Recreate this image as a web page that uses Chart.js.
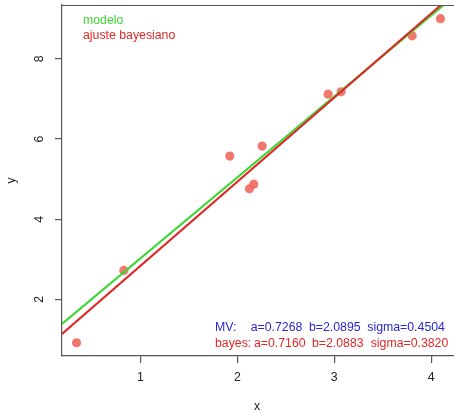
<!DOCTYPE html>
<html>
<head>
<meta charset="utf-8">
<script src="https://cdn.jsdelivr.net/npm/chart.js@4/dist/chart.umd.min.js"></script>
<style>
  html, body { margin: 0; padding: 0; background: #fff; overflow: hidden; }
  #wrap { width: 459px; height: 413px; position: relative; }
</style>
</head>
<body>
<div id="wrap"><canvas id="chart_bayes"></canvas></div>
<script>
// observed points
const obsX = [0.34, 0.828, 1.922, 2.256, 2.125, 2.169, 2.937, 3.071, 3.804, 4.096];
const obsY = [0.92, 2.723, 5.574, 5.823, 4.758, 4.873, 7.117, 7.175, 8.572, 9.00];

// fitted lines, endpoints read where they meet the plot frame
const modeloX = [0.19, 4.124];
const modeloY = [1.39, 9.33];
const bayesX = [0.19, 4.096];
const bayesY = [1.14, 9.33];

const xTicks = [1, 2, 3, 4];
const yTicks = [2, 4, 6, 8];

const legendLabels = ['modelo', 'ajuste bayesiano'];
const mvText = [['MV:', 215], ['a=0.7268', 250.7], ['b=2.0895', 309], ['sigma=0.4504', 367.3]];
const bayesText = [['bayes:', 215], ['a=0.7160', 254], ['b=2.0883', 312], ['sigma=0.3820', 370.7]];

const GREEN = 'rgb(60,215,50)';
const RED = 'rgb(222,40,40)';
const BLUE = 'rgb(40,40,210)';
const AXIS = '#555';
const FONT = '12.3px "Liberation Sans", Arial, sans-serif';

const toPts = (xs, ys) => xs.map((x, i) => ({ x: x, y: ys[i] }));

const framePlugin = {
    id: 'frame',
    afterDraw(chart) {
        const ctx = chart.ctx;
        const a = chart.chartArea;
        const xs = chart.scales.x, ys = chart.scales.y;
        ctx.save();
        // top edge of the box
        ctx.strokeStyle = AXIS;
        ctx.lineWidth = 1.2;
        ctx.beginPath();
        ctx.moveTo(a.left, a.top + 0.5);
        ctx.lineTo(a.right, a.top + 0.5);
        ctx.stroke();

        ctx.font = FONT;
        ctx.fillStyle = '#222';
        ctx.textAlign = 'center';
        ctx.textBaseline = 'middle';
        xTicks.forEach(v => ctx.fillText(String(v), xs.getPixelForValue(v), 378));
        ctx.fillText('x', 257, 407);

        // rotated y labels
        yTicks.forEach(v => {
            ctx.save();
            ctx.translate(40, ys.getPixelForValue(v));
            ctx.rotate(-Math.PI / 2);
            ctx.fillText(String(v), 0, 0);
            ctx.restore();
        });
        ctx.save();
        ctx.translate(12, (a.top + a.bottom) / 2);
        ctx.rotate(-Math.PI / 2);
        ctx.fillText('y', 0, 0);
        ctx.restore();

        // legend
        ctx.textAlign = 'left';
        ctx.fillStyle = GREEN;
        ctx.fillText(legendLabels[0], 83, 21);
        ctx.fillStyle = RED;
        ctx.fillText(legendLabels[1], 83, 35.5);

        // estimates
        ctx.fillStyle = BLUE;
        mvText.forEach(t => ctx.fillText(t[0], t[1], 327.5));
        ctx.fillStyle = RED;
        bayesText.forEach(t => ctx.fillText(t[0], t[1], 343.5));
        ctx.restore();
    }
};

new Chart(document.getElementById('chart_bayes'), {
    type: 'scatter',
    data: {
        datasets: [
            {
                label: 'ajuste bayesiano',
                type: 'line',
                data: toPts(bayesX, bayesY),
                borderColor: RED,
                borderWidth: 2,
                pointRadius: 0,
                order: 0
            },
            {
                label: 'modelo',
                type: 'line',
                data: toPts(modeloX, modeloY),
                borderColor: GREEN,
                borderWidth: 2,
                pointRadius: 0,
                order: 1
            },
            {
                label: 'datos',
                data: toPts(obsX, obsY),
                backgroundColor: 'rgba(240,105,95,0.9)',
                borderWidth: 0,
                pointRadius: 4.6,
                order: 2
            }
        ]
    },
    options: {
        responsive: true,
        maintainAspectRatio: false,
        animation: false,
        layout: { padding: { left: 55, top: 5, right: 0, bottom: 50 } },
        plugins: { legend: { display: false }, tooltip: { enabled: false } },
        scales: {
            x: {
                type: 'linear',
                min: 0.19,
                max: 4.24,
                afterBuildTicks: s => { s.ticks = xTicks.map(v => ({ value: v })); },
                ticks: { display: false },
                grid: { drawOnChartArea: false, drawTicks: true, tickLength: 7, color: AXIS, lineWidth: 1.2 },
                border: { display: true, color: AXIS, width: 1.2 }
            },
            y: {
                type: 'linear',
                min: 0.59,
                max: 9.34,
                afterBuildTicks: s => { s.ticks = yTicks.map(v => ({ value: v })); },
                ticks: { display: false },
                grid: { drawOnChartArea: false, drawTicks: true, tickLength: 7, color: AXIS, lineWidth: 1.2 },
                border: { display: true, color: AXIS, width: 1.2 }
            }
        }
    },
    plugins: [framePlugin]
});
</script>
</body>
</html>
